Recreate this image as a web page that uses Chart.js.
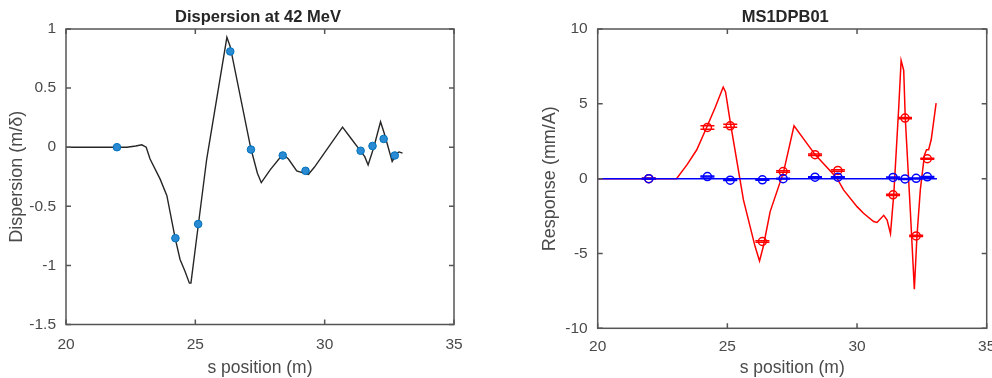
<!DOCTYPE html>
<html>
<head>
<meta charset="utf-8">
<script src="https://cdn.jsdelivr.net/npm/chart.js@4.4.1/dist/chart.umd.min.js"></script>
<style>
  html, body { margin: 0; padding: 0; background: #fff; overflow: hidden; width: 992px; height: 378px; }
  .plot { position: absolute; top: 0; }
  #left { left: 0; }
  #right { left: 520px; }
</style>
</head>
<body>
<canvas id="left" class="plot" width="480" height="378"></canvas>
<canvas id="right" class="plot" width="490" height="378"></canvas>
<script>
// BPM positions (m)
const bpmS = [21.97, 24.23, 25.11, 26.35, 27.15, 28.38, 29.26, 31.39, 31.85, 32.28, 32.71];

// left: model dispersion line
const dispS = [20, 22.35, 22.7, 22.93, 23.1, 23.25, 23.64, 23.9, 24.22, 24.41, 24.6, 24.77, 24.83, 25.12, 25.44, 26.22, 26.35, 27.14, 27.4, 27.55, 27.9, 28.38, 28.6, 28.92, 29.37, 29.6, 30.69, 31.0, 31.36, 31.55, 31.68, 31.9, 32.16, 32.3, 32.61, 32.8, 32.88, 33.01];
const dispModel = [0, 0, 0.01, 0.02, 0.0, -0.10, -0.27, -0.41, -0.77, -0.95, -1.05, -1.15, -1.15, -0.65, -0.10, 0.93, 0.85, -0.005, -0.22, -0.30, -0.19, -0.06, -0.10, -0.20, -0.23, -0.17, 0.17, 0.08, -0.025, -0.08, -0.15, 0.0, 0.215, 0.12, -0.12, -0.05, -0.04, -0.05];
// left: measured dispersion at BPMs
const dispMeas = [0.0, -0.77, -0.65, 0.81, -0.02, -0.07, -0.20, -0.03, 0.01, 0.07, -0.07];

// right: model response (red, x plane)
const respS = [20, 23.04, 23.44, 23.82, 24.2, 24.53, 24.84, 24.93, 25.12, 25.62, 26.07, 26.24, 26.39, 26.65, 27.17, 27.57, 28.39, 29.22, 29.48, 30.0, 30.25, 30.64, 30.77, 31.03, 31.16, 31.29, 31.42, 31.61, 31.7, 31.8, 31.86, 32.06, 32.21, 32.31, 32.44, 32.6, 32.68, 32.76, 32.86, 33.05];
const respX = [0, 0, 0.92, 1.93, 3.42, 4.75, 6.12, 5.8, 3.7, -1.42, -4.54, -5.5, -4.5, -2.2, 0.47, 3.53, 1.59, 0.05, -0.75, -1.87, -2.31, -2.87, -2.93, -2.45, -2.76, -3.67, -0.97, 4.82, 7.9, 7.23, 4.05, -2.31, -7.39, -3.87, -0.75, 1.59, 1.93, 1.93, 2.6, 5.05];
// right: model response (blue, y plane)
const respYS = [20, 33.08];
const respY = [0, 0];
// right: measured response at BPMs with errors
const measX = [0, 3.42, 3.53, -4.2, 0.47, 1.6, 0.55, -1.08, 4.05, -3.83, 1.33];
const errX = [0.04, 0.12, 0.1, 0.05, 0.05, 0.05, 0.05, 0.04, 0.04, 0.04, 0.04];
const measY = [0, 0.14, -0.1, -0.08, 0, 0.1, 0.1, 0.08, -0.02, 0.02, 0.12];
const errY = [0.03, 0.03, 0.03, 0.03, 0.03, 0.03, 0.03, 0.03, 0.03, 0.03, 0.03];

const FONT = "'Liberation Sans', Arial, sans-serif";
const TEXT = '#4a4a4a';

function pts(xs, ys) {
    return xs.map((x, i) => ({ x: x, y: ys[i] }));
}

// matlab-like box with inward ticks and a title above the axes
const axesBox = {
    id: 'axesBox',
    afterDraw(chart, args, opts) {
        const ctx = chart.ctx;
        const a = chart.chartArea;
        const xs = chart.scales.x, ys = chart.scales.y;
        const tl = 5;
        ctx.save();
        ctx.strokeStyle = '#555';
        ctx.lineWidth = 1.5;
        ctx.strokeRect(a.left, a.top, a.right - a.left, a.bottom - a.top);
        ctx.beginPath();
        xs.ticks.forEach(t => {
            const px = xs.getPixelForValue(t.value);
            ctx.moveTo(px, a.bottom); ctx.lineTo(px, a.bottom - tl);
            ctx.moveTo(px, a.top); ctx.lineTo(px, a.top + tl);
        });
        ys.ticks.forEach(t => {
            const py = ys.getPixelForValue(t.value);
            ctx.moveTo(a.left, py); ctx.lineTo(a.left + tl, py);
            ctx.moveTo(a.right, py); ctx.lineTo(a.right - tl, py);
        });
        ctx.stroke();
        ctx.fillStyle = '#262626';
        ctx.font = 'bold 16.5px ' + FONT;
        ctx.textAlign = 'center';
        ctx.textBaseline = 'middle';
        ctx.fillText(opts.text, (a.left + a.right) / 2 + (opts.dx || 0), 17);
        ctx.restore();
    }
};

function xScale(height, pad) {
    return {
        type: 'linear', min: 20, max: 35,
        grid: { display: false, drawTicks: false }, border: { display: false },
        ticks: { stepSize: 5, padding: pad, color: TEXT, font: { family: FONT, size: 15.5 } },
        title: { display: true, text: 's position (m)', color: TEXT, font: { family: FONT, size: 17.5, lineHeight: 1 }, padding: { top: 0, bottom: 1 } },
        afterFit: s => { s.height = height; }
    };
}

function yScale(min, max, step, label, width, tpad) {
    return {
        type: 'linear', min: min, max: max,
        grid: { display: false, drawTicks: false }, border: { display: false },
        ticks: { stepSize: step, padding: 10, color: TEXT, font: { family: FONT, size: 15.5 }, callback: v => String(v) },
        title: { display: true, text: label, color: TEXT, font: { family: FONT, size: 18, lineHeight: 1 }, padding: { top: tpad, bottom: 0 } },
        afterFit: s => { s.width = width; }
    };
}

new Chart(document.getElementById('left'), {
    type: 'scatter',
    data: {
        datasets: [
            {
                data: pts(bpmS, dispMeas), showLine: false, pointStyle: 'circle', pointRadius: 3.8,
                backgroundColor: '#2a8ad2', borderColor: '#0072BD', borderWidth: 1
            },
            {
                data: pts(dispS, dispModel), showLine: true, borderColor: '#262626', borderWidth: 1.4,
                pointRadius: 0, tension: 0
            }
        ]
    },
    options: {
        responsive: false, animation: false, devicePixelRatio: 1,
        layout: { padding: { top: 29, right: 26, bottom: 0, left: 0 } },
        plugins: { legend: { display: false }, tooltip: { enabled: false }, axesBox: { text: 'Dispersion at 42 MeV', dx: -2 } },
        scales: {
            x: xScale(53.5, 10.5),
            y: yScale(-1.5, 1, 0.5, 'Dispersion (m/δ)', 66, 8)
        }
    },
    plugins: [axesBox]
});

new Chart(document.getElementById('right'), {
    type: 'scatter',
    data: {
        datasets: [
            { data: pts(bpmS, measY), pointStyle: 'circle', pointRadius: 4, backgroundColor: 'rgba(0,0,0,0)', borderColor: '#0000ff', borderWidth: 1.5 },
            { data: pts(bpmS, measY.map((v, i) => v + errY[i])), pointStyle: 'line', pointRadius: 7, borderColor: '#0000ff', borderWidth: 1.5 },
            { data: pts(bpmS, measY.map((v, i) => v - errY[i])), pointStyle: 'line', pointRadius: 7, borderColor: '#0000ff', borderWidth: 1.5 },
            { data: pts(respYS, respY), showLine: true, borderColor: '#0000ff', borderWidth: 1.5, pointRadius: 0, tension: 0 },
            { data: pts(bpmS, measX), pointStyle: 'circle', pointRadius: 4, backgroundColor: 'rgba(0,0,0,0)', borderColor: '#ff0000', borderWidth: 1.5 },
            { data: pts(bpmS, measX.map((v, i) => v + errX[i])), pointStyle: 'line', pointRadius: 7, borderColor: '#ff0000', borderWidth: 1.5 },
            { data: pts(bpmS, measX.map((v, i) => v - errX[i])), pointStyle: 'line', pointRadius: 7, borderColor: '#ff0000', borderWidth: 1.5 },
            { data: pts(respS, respX), showLine: true, borderColor: '#ff0000', borderWidth: 1.5, pointRadius: 0, tension: 0 }
        ]
    },
    options: {
        responsive: false, animation: false, devicePixelRatio: 1,
        layout: { padding: { top: 29, right: 23.3, bottom: 0, left: 0 } },
        plugins: { legend: { display: false }, tooltip: { enabled: false }, axesBox: { text: 'MS1DPB01', dx: -7 } },
        scales: {
            x: xScale(49.7, 8.7),
            y: yScale(-10, 10, 5, 'Response (mm/A)', 77.7, 21)
        }
    },
    plugins: [axesBox]
});
</script>
</body>
</html>
